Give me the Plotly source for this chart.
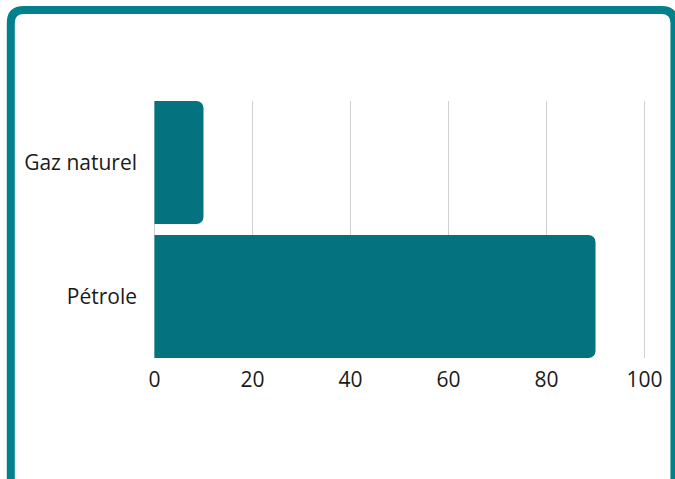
import plotly.graph_objects as go

# données
categories = ["Gaz naturel", "Pétrole"]
valeurs = [10, 90]
x_ticks = [0, 20, 40, 60, 80, 100]

W, H = 675, 479
L, R, T, B = 152.5, 28.5, 101, 121
pw, ph = W - L - R, H - T - B

# barres collées au haut et au bas de la zone de tracé
bar_w = 0.918
gap = 1 - bar_w


def px(x):
    return (x - L) / pw


def py(y):
    return (H - B - y) / ph


fig = go.Figure(go.Bar(
    x=valeurs,
    y=categories,
    orientation="h",
    marker=dict(color="#04737F", cornerradius=7, line=dict(width=0)),
    hoverinfo="x+y",
))

# cadre arrondi autour de la figure
x0, x1, y0, y1, r = 10, 675, 10, 490, 13
path = (
    f"M {px(x0)},{py(y1)} L {px(x0)},{py(y0 + r)} "
    f"Q {px(x0)},{py(y0)} {px(x0 + r)},{py(y0)} "
    f"L {px(x1 - r)},{py(y0)} "
    f"Q {px(x1)},{py(y0)} {px(x1)},{py(y0 + r)} "
    f"L {px(x1)},{py(y1)}"
)
fig.add_shape(type="path", path=path, xref="paper", yref="paper",
              line=dict(color="#02808E", width=8), layer="above")

fig.update_layout(
    width=W, height=H,
    margin=dict(l=L, r=R, t=T, b=B),
    paper_bgcolor="white",
    plot_bgcolor="white",
    showlegend=False,
    bargap=gap,
    font=dict(family="Open Sans", size=21, color="#1a1a1a"),
    xaxis=dict(
        range=[-0.3, 100.3],
        tickvals=x_ticks,
        showgrid=True,
        gridcolor="#D0D0D0",
        gridwidth=1,
        zeroline=False,
        showline=False,
        ticks="",
        ticklabelstandoff=7,
        tickfont=dict(size=21),
        fixedrange=True,
    ),
    yaxis=dict(
        categoryorder="array",
        categoryarray=categories[::-1],
        range=[-bar_w / 2, 1 + bar_w / 2],
        showgrid=False,
        showline=False,
        zeroline=False,
        ticks="",
        ticklabelstandoff=15,
        tickfont=dict(size=21),
        fixedrange=True,
    ),
)

fig.write_html("out.html", config={"displayModeBar": False},
               post_script="document.body.style.margin='0';")
